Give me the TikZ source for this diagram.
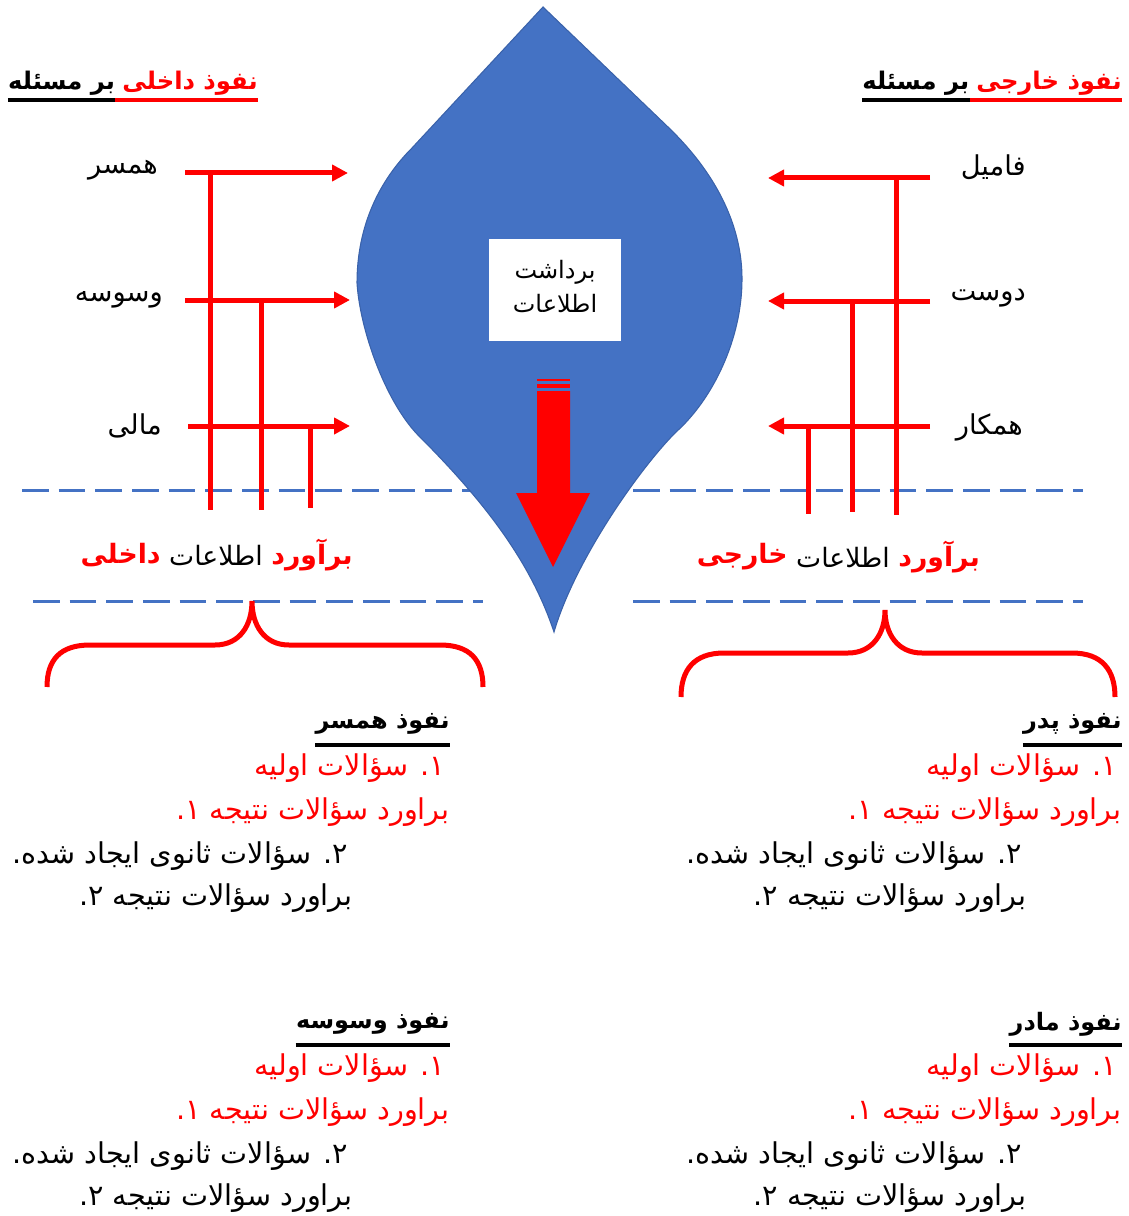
\documentclass[tikz,border=0pt]{standalone}
\usepackage{fontspec}
\usetikzlibrary{arrows.meta}
\newfontfamily\fa[Script=Arabic]{DejaVu Sans}
\TeXXeTstate=1
\definecolor{shapeblue}{HTML}{4472C4}
\definecolor{shapeedge}{HTML}{3A62AA}
\definecolor{dashblue}{HTML}{4472C4}
\definecolor{fared}{HTML}{FF0000}
\newcommand{\RT}[1]{\beginR #1\endR}
\tikzset{
  txt/.style={font=\fa\fontsize{21.5}{24}\selectfont, inner sep=0pt, text=black},
  btxt/.style={font=\fa\bfseries\fontsize{18}{22}\selectfont, inner sep=0pt, text=black},
  rtxt/.style={txt, text=fared},
  lbltxt/.style={font=\fa\fontsize{20.5}{24}\selectfont, inner sep=0pt, text=black},
  midtxt/.style={font=\fa\fontsize{20}{24}\selectfont, inner sep=0pt, text=black},
  midbtxt/.style={font=\fa\bfseries\fontsize{20}{24}\selectfont, inner sep=0pt, text=fared},
  ttltxt/.style={font=\fa\bfseries\fontsize{18.2}{22}\selectfont, inner sep=0pt, text=black},
  redarrow/.style={draw=fared, line width=3.75pt, -{Triangle[length=12pt,width=12pt]}},
  redline/.style={draw=fared, line width=3.75pt},
  bluedash/.style={draw=dashblue, line width=2.25pt, dash pattern=on 20pt off 7.5pt},
  brace/.style={draw=fared, line width=3.75pt},
  uline/.style={line width=2.6pt},
}
\begin{document}
\begin{tikzpicture}[x=0.75pt,y=-0.75pt]
\useasboundingbox (0,0) rectangle (1128,1216);

% dashed lines
\coordinate (dl1a) at (22,490);  \coordinate (dl1b) at (480,490);
\coordinate (dr1a) at (633,490); \coordinate (dr1b) at (1083,490);
\coordinate (dl2a) at (33,601);  \coordinate (dl2b) at (483,601);
\coordinate (dr2a) at (633,601); \coordinate (dr2b) at (1083,601);
\draw[bluedash] (dl1a) -- (dl1b);
\draw[bluedash] (dr1a) -- (dr1b);
\draw[bluedash] (dl2a) -- (dl2b);
\draw[bluedash] (dr2a) -- (dr2b);

% central shape
\path[fill=shapeblue, draw=shapeedge, line width=0.8pt]
  (543,7) -- (668,127) .. controls (720,177) and (742,230) .. (742,279)
  .. controls (742,340) and (712,400) .. (676,432)
  .. controls (640,468) and (575,560) .. (554,632)
  .. controls (530,560) and (483,500) .. (417,434)
  .. controls (385,400) and (360,330) .. (357,283)
  .. controls (357,225) and (380,180) .. (412,148) -- cycle;

\node[draw=none, fill=white, minimum width=99pt, minimum height=75.75pt] (box) at (555,290) {};
\node[align=center, inner sep=0pt, font=\fa\fontsize{18}{25.5}\selectfont] (boxtxt) at (555,286) {\RT{برداشت}\\\RT{اطلاعات}};

% big red arrow
\fill[fared] (537,379) rectangle (570,381);
\fill[fared] (537,384) rectangle (570,388);
\fill[fared] (537,391) -- (570,391) -- (570,493) -- (590,493) -- (553,567) -- (516,493) -- (537,493) -- cycle;

% titles
\node[ttltxt, text=fared, anchor=base east] (tlr) at (258,90) {\RT{نفوذ داخلی}};
\node[ttltxt, anchor=base east] (tlb) at ([xshift=-5pt]tlr.base west) {\RT{بر مسئله}};
\draw[uline, fared] (tlb.east |- 0,100) -- (tlr.east |- 0,100);
\draw[uline, black] (tlb.west |- 0,100) -- (tlb.east |- 0,100);

\node[ttltxt, text=fared, anchor=base east] (trr) at (1122,90) {\RT{نفوذ خارجی}};
\node[ttltxt, anchor=base east] (trb) at ([xshift=-5pt]trr.base west) {\RT{بر مسئله}};
\draw[uline, fared] (trb.east |- 0,100) -- (trr.east |- 0,100);
\draw[uline, black] (trb.west |- 0,100) -- (trb.east |- 0,100);

% left influence labels
\node[lbltxt, anchor=east] (hamsar) at (158,170) {\RT{همسر}};
\node[lbltxt, anchor=east] (vasvase) at (163,300) {\RT{وسوسه}};
\node[lbltxt, anchor=east] (mali) at (162,426) {\RT{مالی}};

\coordinate (la1) at (185,173); \coordinate (lb1) at (348,173);
\coordinate (la2) at (185,300); \coordinate (lb2) at (350,300);
\coordinate (la3) at (188,426); \coordinate (lb3) at (350,426);
\draw[redarrow] (la1) -- (lb1);
\draw[redarrow] (la2) -- (lb2);
\draw[redarrow] (la3) -- (lb3);
\coordinate (lv1) at (210,510); \coordinate (lv2) at (261,510); \coordinate (lv3) at (310,508);
\draw[redline] (la1 -| lv1) -- (lv1);
\draw[redline] (la2 -| lv2) -- (lv2);
\draw[redline] (la3 -| lv3) -- (lv3);

% right influence labels
\node[lbltxt, anchor=east] (famil) at (1026,167) {\RT{فامیل}};
\node[lbltxt, anchor=east] (doost) at (1026,298) {\RT{دوست}};
\node[lbltxt, anchor=east] (hamkar) at (1023,427) {\RT{همکار}};

\coordinate (ra1) at (930,178); \coordinate (rb1) at (768,178);
\coordinate (ra2) at (930,301); \coordinate (rb2) at (768,301);
\coordinate (ra3) at (930,426); \coordinate (rb3) at (768,426);
\draw[redarrow] (ra1) -- (rb1);
\draw[redarrow] (ra2) -- (rb2);
\draw[redarrow] (ra3) -- (rb3);
\coordinate (rv1) at (896,515); \coordinate (rv2) at (852,512); \coordinate (rv3) at (808,514);
\draw[redline] (ra1 -| rv1) -- (rv1);
\draw[redline] (ra2 -| rv2) -- (rv2);
\draw[redline] (ra3 -| rv3) -- (rv3);

% estimate labels
\node[midbtxt, anchor=east] (el1) at (353,555) {\RT{برآورد}};
\node[midtxt, anchor=east] (el2) at ([xshift=-6pt]el1.west) {\RT{اطلاعات}};
\node[midbtxt, anchor=east] (el3) at ([xshift=-6pt]el2.west) {\RT{داخلی}};

\node[midbtxt, anchor=east] (er1) at (980,557) {\RT{برآورد}};
\node[midtxt, anchor=east] (er2) at ([xshift=-6pt]er1.west) {\RT{اطلاعات}};
\node[midbtxt, anchor=east] (er3) at ([xshift=-6pt]er2.west) {\RT{خارجی}};

% braces
\draw[brace] (47,687) .. controls (47,660) and (60,645) .. (90,645) -- (215,645)
  .. controls (240,645) and (252,625) .. (252,601)
  .. controls (252,625) and (264,645) .. (289,645) -- (440,645)
  .. controls (470,645) and (483,660) .. (483,687);
\draw[brace] (681,697) .. controls (681,670) and (694,653) .. (724,653) -- (848,653)
  .. controls (873,653) and (885,633) .. (885,610)
  .. controls (885,633) and (897,653) .. (922,653) -- (1072,653)
  .. controls (1102,653) and (1115,670) .. (1115,697);

% blocks
\foreach \nm/\xr/\xb/\yo/\ttl in {a/450/353/0/نفوذ همسر, b/1122/1027/0/نفوذ پدر, c/450/353/300/نفوذ وسوسه, d/1122/1027/300/نفوذ مادر}{
  \node[btxt, anchor=east] (t\nm) at (\xr,724+\yo) {\RT{\ttl}};
  \draw[line width=3pt] (t\nm.west |- 0,745+\yo) -- (t\nm.east |- 0,745+\yo);
  \node[rtxt, anchor=east] (p\nm) at (\xr-5,768+\yo) {\RT{١. سؤالات اولیه}};
  \node[rtxt, anchor=east] (q\nm) at (\xr,812+\yo) {\RT{براورد سؤالات نتیجه ١.}};
  \node[txt, anchor=east] (r\nm) at (\xb-5,856+\yo) {\RT{٢. سؤالات ثانوی ایجاد شده.}};
  \node[txt, anchor=east] (s\nm) at (\xb,898+\yo) {\RT{براورد سؤالات نتیجه ٢.}};
}
\end{tikzpicture}
\end{document}
